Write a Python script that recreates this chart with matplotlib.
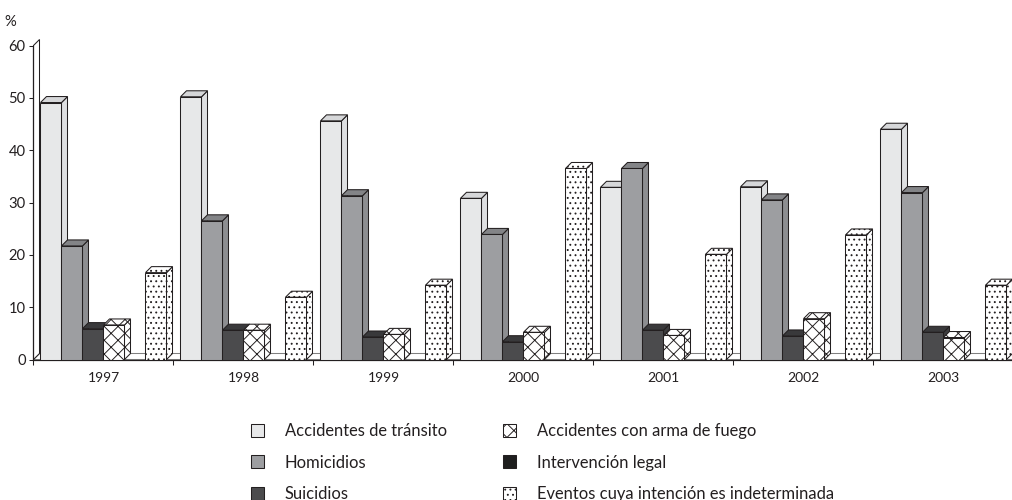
import numpy as np
import matplotlib
matplotlib.use('Agg')
import matplotlib.pyplot as plt
from matplotlib.patches import Polygon

plt.rcParams['font.family'] = ['Lato', 'DejaVu Sans']
plt.rcParams['hatch.linewidth'] = 0.55
plt.rcParams['hatch.color'] = '#231f20'

# Porcentaje por tipo de evento, 1997-2003
years = ['1997', '1998', '1999', '2000', '2001', '2002', '2003']
transito = [49.1, 50.2, 45.6, 30.8, 32.9, 33.0, 44.0]
homicidios = [21.7, 26.5, 31.3, 23.9, 36.5, 30.5, 31.9]
suicidios = [5.9, 5.6, 4.3, 3.4, 5.6, 4.5, 5.2]
arma_fuego = [6.6, 5.6, 4.8, 5.2, 4.6, 7.8, 4.2]
intervencion = [0, 0, 0, 0, 0, 0, 0]
indeterminada = [16.6, 11.9, 14.2, 36.5, 20.1, 23.8, 14.2]

labels = ['Accidentes de tránsito', 'Homicidios', 'Suicidios',
          'Accidentes con arma de fuego', 'Intervención legal',
          'Eventos cuya intención es indeterminada']
series = [transito, homicidios, suicidios, arma_fuego, intervencion, indeterminada]

# front, side, top colours and hatch for each series
styles = [('#e7e8e9', '#dedfe1', '#d6d7d9', None),
          ('#9d9ea1', '#8d8e91', '#838487', None),
          ('#4b4b4d', '#3d3d3f', '#39393b', None),
          ('white', 'white', 'white', 'xxx'),
          ('#1e1e1e', '#1e1e1e', '#1e1e1e', None),
          ('white', 'white', 'white', '....')]

edge = '#231f20'
DPI = 125
W, H = 1013, 500

fig = plt.figure(figsize=(W / DPI, H / DPI), dpi=DPI)
ax = fig.add_axes([33.5 / W, 140.5 / H, 980 / W, 314 / H])
ax.set_xlim(-0.5, len(years) - 0.5)
ax.set_ylim(0, 60)

# depth of the 3d effect, 6 px each way, in data units
ppx = 980 / len(years)
ppy = 314 / 60.0
dx = 6 / ppx
dy = 6 / ppy

x0, x1 = -0.5, len(years) - 0.5
floor = Polygon([(x0, 0), (x1, 0), (x1 + dx, dy), (x0 + dx, dy)],
                closed=True, facecolor='white', edgecolor='#808080',
                lw=0.6, zorder=1, clip_on=False)
ax.add_patch(floor)
wall = Polygon([(x0, 0), (x0, 60), (x0 + dx, 60 + dy), (x0 + dx, dy)],
               closed=True, facecolor='white', edgecolor=edge,
               lw=0.6, zorder=1, clip_on=False)
ax.add_patch(wall)

bw = 0.15
x = np.arange(len(years))
n = len(series)
for k, (vals, lab, st) in enumerate(zip(series, labels, styles)):
    front, side, top, hatch = st
    bars = ax.bar(x - 0.45 + k * bw, vals, width=bw, align='edge',
                  color=front, edgecolor=edge, linewidth=0.6,
                  hatch=hatch, label=lab)
    for i, r in enumerate(bars.patches):
        z = 2 + 0.01 * (i * n + k)
        r.set_zorder(z)
        h = r.get_height()
        if h <= 0:
            continue
        L = r.get_x()
        R = L + r.get_width()
        sp = Polygon([(R, 0), (R + dx, dy), (R + dx, h + dy), (R, h)],
                     closed=True, facecolor=side, edgecolor=edge,
                     lw=0.6, hatch=hatch, zorder=z - 0.005)
        tp = Polygon([(L, h), (R, h), (R + dx, h + dy), (L + dx, h + dy)],
                     closed=True, facecolor=top, edgecolor=edge,
                     lw=0.6, hatch=hatch, zorder=z - 0.004)
        ax.add_patch(sp)
        ax.add_patch(tp)

for s in ['top', 'right']:
    ax.spines[s].set_visible(False)
for s in ['left', 'bottom']:
    ax.spines[s].set_linewidth(0.7)
    ax.spines[s].set_color(edge)
    ax.spines[s].set_zorder(1.5)

ax.set_xticks(np.arange(len(years) + 1) - 0.5)
ax.set_xticklabels([])
ax.set_xticks(x, minor=True)
ax.set_xticklabels(years, minor=True)
ax.tick_params(axis='x', which='major', length=3, width=0.6, color=edge)
ax.tick_params(axis='x', which='minor', length=0, pad=7, labelsize=8,
               labelcolor=edge)
ax.set_yticks(range(0, 61, 10))
ax.tick_params(axis='y', length=2.5, width=0.6, pad=2, labelsize=8.5,
               color=edge, labelcolor=edge)

fig.text(4 / W, 1 - 22 / H, '%', ha='left', va='center', fontsize=8.5,
         color=edge)

handles, labs = ax.get_legend_handles_labels()
for col, xpos in enumerate([251 / W, 503 / W]):
    fig.legend(handles[col * 3:col * 3 + 3], labs[col * 3:col * 3 + 3],
               loc='upper left', bbox_to_anchor=(xpos, 1 - 423 / H),
               frameon=False, fontsize=9.5, borderpad=0, borderaxespad=0,
               handlelength=0.8, handleheight=0.8, handletextpad=1.25,
               labelspacing=0.94, labelcolor=edge)

fig.savefig('out.png', dpi=DPI)
